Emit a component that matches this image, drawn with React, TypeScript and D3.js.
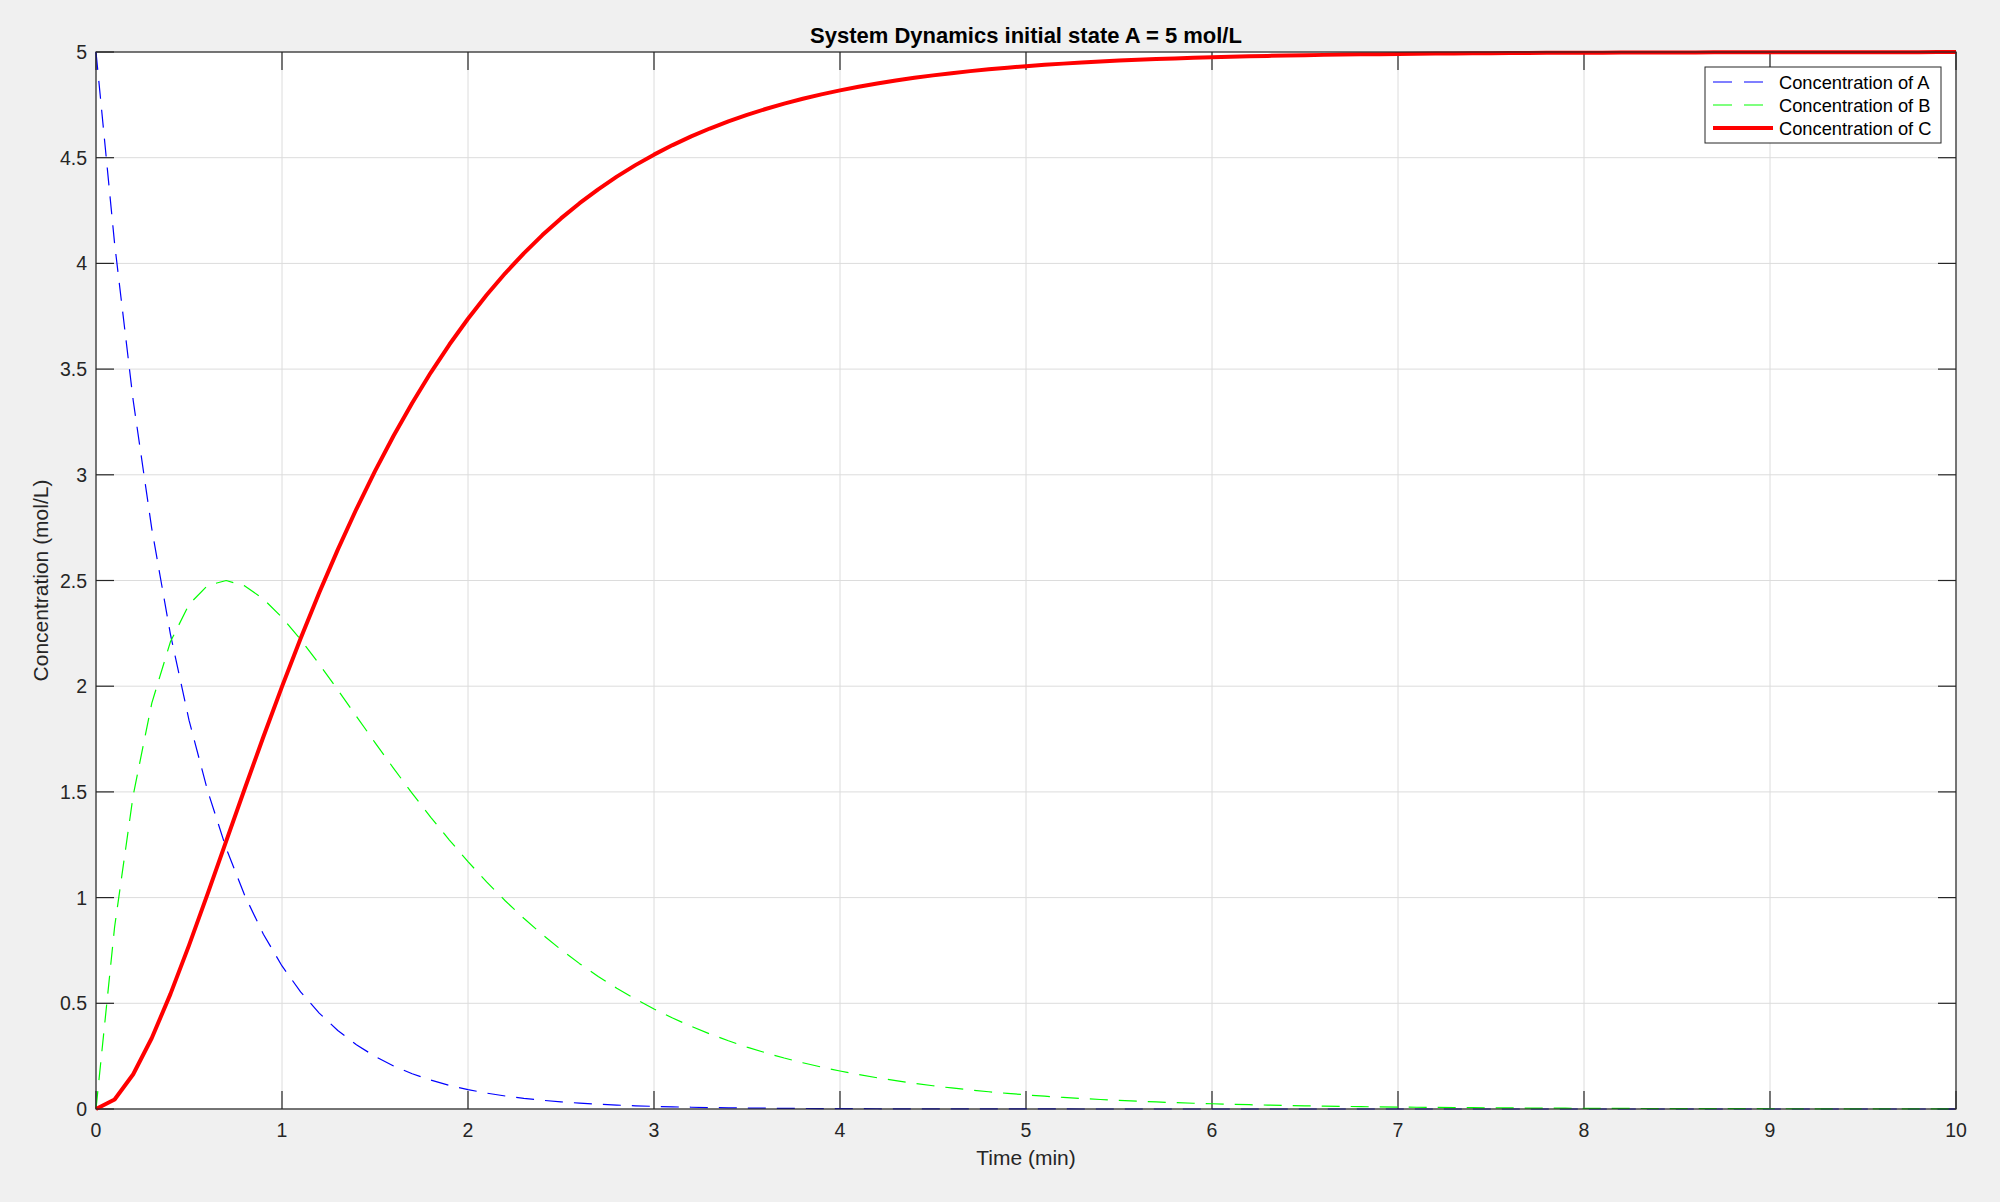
import React from 'react';
import * as d3 from 'd3';

// time grid (min)
const time = [
  0, 0.1, 0.2, 0.3, 0.4, 0.5, 0.6, 0.7, 0.8, 0.9,
  1, 1.1, 1.2, 1.3, 1.4, 1.5, 1.6, 1.7, 1.8, 1.9,
  2, 2.1, 2.2, 2.3, 2.4, 2.5, 2.6, 2.7, 2.8, 2.9,
  3, 3.1, 3.2, 3.3, 3.4, 3.5, 3.6, 3.7, 3.8, 3.9,
  4, 4.1, 4.2, 4.3, 4.4, 4.5, 4.6, 4.7, 4.8, 4.9,
  5, 5.1, 5.2, 5.3, 5.4, 5.5, 5.6, 5.7, 5.8, 5.9,
  6, 6.1, 6.2, 6.3, 6.4, 6.5, 6.6, 6.7, 6.8, 6.9,
  7, 7.1, 7.2, 7.3, 7.4, 7.5, 7.6, 7.7, 7.8, 7.9,
  8, 8.1, 8.2, 8.3, 8.4, 8.5, 8.6, 8.7, 8.8, 8.9,
  9, 9.1, 9.2, 9.3, 9.4, 9.5, 9.6, 9.7, 9.8, 9.9,
  10,
];

const concA = [
  5, 4.0937, 3.3516, 2.7441, 2.2466, 1.8394, 1.506, 1.233, 1.0095, 0.8265,
  0.6767, 0.554, 0.4536, 0.3714, 0.304, 0.2489, 0.2038, 0.1669, 0.1366, 0.1118,
  0.0916, 0.075, 0.0614, 0.0503, 0.0412, 0.0337, 0.0276, 0.0226, 0.0185, 0.0151,
  0.0124, 0.0101, 0.0083, 0.0068, 0.0056, 0.0046, 0.0037, 0.0031, 0.0025, 0.002,
  0.0017, 0.0014, 0.0011, 0.0009, 0.0008, 0.0006, 0.0005, 0.0004, 0.0003, 0.0003,
  0.0002, 0.0002, 0.0002, 0.0001, 0.0001, 0.0001, 0.0001, 0.0001, 0, 0,
  0, 0, 0, 0, 0, 0, 0, 0, 0, 0,
  0, 0, 0, 0, 0, 0, 0, 0, 0, 0,
  0, 0, 0, 0, 0, 0, 0, 0, 0, 0,
  0, 0, 0, 0, 0, 0, 0, 0, 0, 0,
  0,
];

const concB = [
  0, 0.8611, 1.4841, 1.9201, 2.2099, 2.3865, 2.4762, 2.4999, 2.4743, 2.4127,
  2.3254, 2.2207, 2.1048, 1.9826, 1.8579, 1.7334, 1.6114, 1.4931, 1.3798, 1.272,
  1.1702, 1.0746, 0.9853, 0.9021, 0.8249, 0.7535, 0.6876, 0.6269, 0.5711, 0.52,
  0.4731, 0.4302, 0.391, 0.3552, 0.3226, 0.2929, 0.2658, 0.2411, 0.2187, 0.1983,
  0.1798, 0.163, 0.1477, 0.1339, 0.1213, 0.1099, 0.0995, 0.0901, 0.0816, 0.0739,
  0.0669, 0.0606, 0.0549, 0.0497, 0.045, 0.0407, 0.0368, 0.0334, 0.0302, 0.0273,
  0.0248, 0.0224, 0.0203, 0.0184, 0.0166, 0.015, 0.0136, 0.0123, 0.0111, 0.0101,
  0.0091, 0.0083, 0.0075, 0.0068, 0.0061, 0.0055, 0.005, 0.0045, 0.0041, 0.0037,
  0.0034, 0.003, 0.0027, 0.0025, 0.0022, 0.002, 0.0018, 0.0017, 0.0015, 0.0014,
  0.0012, 0.0011, 0.001, 0.0009, 0.0008, 0.0007, 0.0007, 0.0006, 0.0006, 0.0005,
  0.0005,
];

const concC = [
  0, 0.0452, 0.1643, 0.3358, 0.5435, 0.7741, 1.0178, 1.2671, 1.5162, 1.7608,
  1.9979, 2.2253, 2.4416, 2.646, 2.8381, 3.0177, 3.1848, 3.34, 3.4836, 3.6162,
  3.7382, 3.8504, 3.9533, 4.0476, 4.1339, 4.2128, 4.2848, 4.3505, 4.4104, 4.4649,
  4.5145, 4.5597, 4.6007, 4.638, 4.6718, 4.7025, 4.7305, 4.7558, 4.7788, 4.7997,
  4.8185, 4.8356, 4.8512, 4.8652, 4.8779, 4.8895, 4.9, 4.9095, 4.9181, 4.9258,
  4.9329, 4.9392, 4.945, 4.9502, 4.955, 4.9593, 4.9632, 4.9666, 4.9698, 4.9727,
  4.9752, 4.9776, 4.9797, 4.9816, 4.9834, 4.985, 4.9864, 4.9877, 4.9889, 4.9899,
  4.9909, 4.9917, 4.9925, 4.9932, 4.9939, 4.9945, 4.995, 4.9955, 4.9959, 4.9963,
  4.9966, 4.997, 4.9973, 4.9975, 4.9978, 4.998, 4.9982, 4.9983, 4.9985, 4.9986,
  4.9988, 4.9989, 4.999, 4.9991, 4.9992, 4.9993, 4.9993, 4.9994, 4.9994, 4.9995,
  4.9995,
];

const xTicks = [0, 1, 2, 3, 4, 5, 6, 7, 8, 9, 10];
const yTicks = [0, 0.5, 1, 1.5, 2, 2.5, 3, 3.5, 4, 4.5, 5];

const seriesNames = ['Concentration of A', 'Concentration of B', 'Concentration of C'];

const FONT = '"Liberation Sans", Arial, Helvetica, sans-serif';

const App = () => {
  const width = 2000;
  const height = 1202;
  const left = 96;
  const right = 1956;
  const top = 52;
  const bottom = 1109;

  const x = d3.scaleLinear().domain([0, 10]).range([left, right]);
  const y = d3.scaleLinear().domain([0, 5]).range([bottom, top]);

  const lineOf = (vals: number[]) =>
    d3
      .line<number>()
      .x((_, i) => x(time[i]))
      .y(d => y(d))(vals) as string;

  const series = [
    { vals: concA, color: '#0000ff', w: 1.2, dash: '18 11' },
    { vals: concB, color: '#00ff00', w: 1.2, dash: '18 11' },
    { vals: concC, color: '#ff0000', w: 4, dash: undefined },
  ];

  const axisColor = '#262626';
  const tickLen = 18;

  const legX = 1705;
  const legY = 67;
  const legW = 236;
  const legH = 76;

  return (
    <div style={{ position: 'absolute', left: 0, top: 0 }}>
      <svg width={width} height={height} style={{ display: 'block', background: '#f0f0f0' }}>
        <rect x={left} y={top} width={right - left} height={bottom - top} fill="#fff" />

        {/* grid */}
        {xTicks.map(t => (
          <line key={'gx' + t} x1={x(t)} x2={x(t)} y1={top} y2={bottom} stroke="#dcdcdc" strokeWidth={1} />
        ))}
        {yTicks.map(t => (
          <line key={'gy' + t} x1={left} x2={right} y1={y(t)} y2={y(t)} stroke="#dcdcdc" strokeWidth={1} />
        ))}

        {/* ticks (inside, all four sides) */}
        {xTicks.map(t => (
          <g key={'tx' + t} stroke={axisColor} strokeWidth={1.2}>
            <line x1={x(t)} x2={x(t)} y1={bottom} y2={bottom - tickLen} />
            <line x1={x(t)} x2={x(t)} y1={top} y2={top + tickLen} />
          </g>
        ))}
        {yTicks.map(t => (
          <g key={'ty' + t} stroke={axisColor} strokeWidth={1.2}>
            <line x1={left} x2={left + tickLen} y1={y(t)} y2={y(t)} />
            <line x1={right} x2={right - tickLen} y1={y(t)} y2={y(t)} />
          </g>
        ))}

        {/* data */}
        <g>
          {series.map((s, i) => (
            <path
              key={i}
              d={lineOf(s.vals)}
              fill="none"
              stroke={s.color}
              strokeWidth={s.w}
              strokeDasharray={s.dash}
              strokeLinejoin="round"
            />
          ))}
        </g>

        {/* box */}
        <rect
          x={left}
          y={top}
          width={right - left}
          height={bottom - top}
          fill="none"
          stroke={axisColor}
          strokeWidth={1.2}
        />

        {/* tick labels */}
        {xTicks.map(t => (
          <text
            key={'lx' + t}
            x={x(t)}
            y={bottom + 28}
            textAnchor="middle"
            fontFamily={FONT}
            fontSize={19.5}
            fill={axisColor}
          >
            {t}
          </text>
        ))}
        {yTicks.map(t => (
          <text
            key={'ly' + t}
            x={left - 9}
            y={y(t) + 7}
            textAnchor="end"
            fontFamily={FONT}
            fontSize={19.5}
            fill={axisColor}
          >
            {t}
          </text>
        ))}

        {/* axis labels */}
        <text
          x={(left + right) / 2}
          y={1165}
          textAnchor="middle"
          fontFamily={FONT}
          fontSize={21}
          fill={axisColor}
        >
          Time (min)
        </text>
        <text
          transform={`translate(48, ${(top + bottom) / 2}) rotate(-90)`}
          textAnchor="middle"
          fontFamily={FONT}
          fontSize={21}
          fill={axisColor}
        >
          Concentration (mol/L)
        </text>

        {/* title */}
        <text
          x={(left + right) / 2}
          y={43}
          textAnchor="middle"
          fontFamily={FONT}
          fontSize={22}
          fontWeight="bold"
          fill="#000"
        >
          System Dynamics initial state A = 5 mol/L
        </text>

        {/* legend */}
        <rect x={legX} y={legY} width={legW} height={legH} fill="#fff" stroke={axisColor} strokeWidth={1} />
        {series.map((s, i) => {
          const ry = legY + 15 + i * 23;
          return (
            <g key={'leg' + i}>
              <line
                x1={legX + 8}
                x2={legX + 68}
                y1={ry}
                y2={ry}
                stroke={s.color}
                strokeWidth={s.w}
                strokeDasharray={s.dash ? '19 12' : undefined}
              />
              <text x={legX + 74} y={ry + 6.5} fontFamily={FONT} fontSize={18.3} fill="#000">
                {seriesNames[i]}
              </text>
            </g>
          );
        })}
      </svg>
    </div>
  );
};

export default App;
